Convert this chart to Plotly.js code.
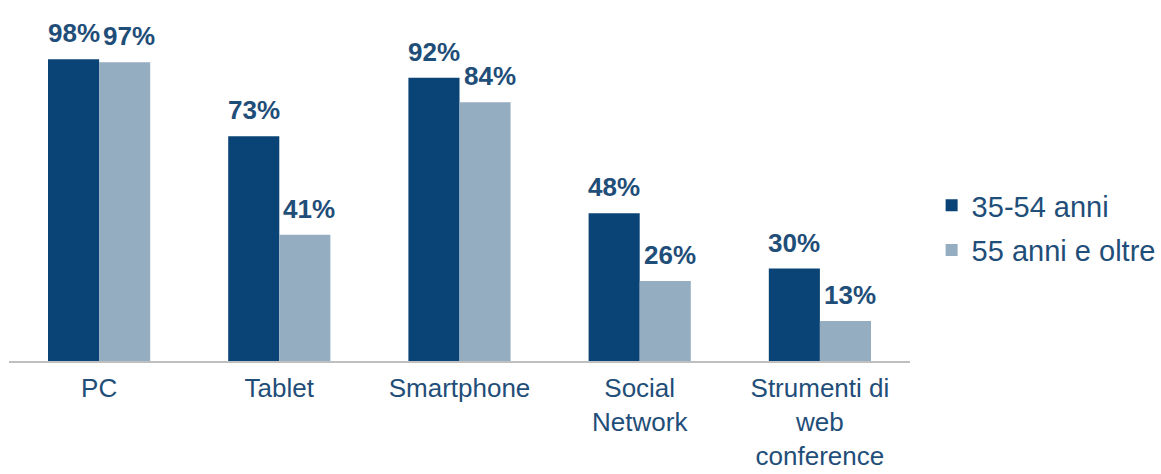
<!DOCTYPE html>
<html>
<head>
<meta charset="utf-8">
<script src="https://cdn.plot.ly/plotly-3.0.1.min.js"></script>
<style>html,body{margin:0;padding:0;background:#fff;}#chart{width:1161px;height:474px;}</style>
</head>
<body>
<div id="chart"></div>
<script>
const categories = ["PC", "Tablet", "Smartphone", "Social<br>Network", "Strumenti di<br>web<br>conference"];
const seriesNames = ["35-54 anni", "55 anni e oltre"];
const values3554 = [98, 73, 92, 48, 30];
const values55plus = [97, 41, 84, 26, 13];

const darkColor = "#0A4477";
const lightColor = "#94ADC0";
const textColor = "#1F4E79";
const fontFamily = "'Liberation Sans', Arial, sans-serif";

const traces = [
  {type: "bar", name: seriesNames[0], legendgroup: "a", x: categories, y: values3554, marker: {color: darkColor}, hoverinfo: "none"},
  {type: "bar", name: seriesNames[1], legendgroup: "b", x: categories, y: values55plus, marker: {color: lightColor}, hoverinfo: "none"}
];

const annotations = [];
[values3554, values55plus].forEach((vals, si) => {
  vals.forEach((v, i) => {
    annotations.push({
      x: categories[i], y: v, xref: "x", yref: "y",
      text: "<b>" + v + "%</b>", showarrow: false,
      yanchor: "bottom", xanchor: "center",
      xshift: si === 0 ? -25.5 : 30, yshift: 9,
      font: {family: fontFamily, size: 26, color: textColor}
    });
  });
});

const layout = {
  width: 1161, height: 474,
  margin: {l: 9, r: 251, t: 53, b: 113, autoexpand: false},
  paper_bgcolor: "#ffffff", plot_bgcolor: "#ffffff",
  barmode: "group", bargap: 0.433, bargroupgap: 0,
  showlegend: true,
  legend: {
    x: 1.024, xanchor: "left", y: 0.432, yanchor: "middle",
    tracegroupgap: 4,
    font: {family: fontFamily, size: 29, color: textColor},
    bgcolor: "rgba(0,0,0,0)"
  },
  xaxis: {
    type: "category",
    showline: true, linecolor: "#BFBFBF", linewidth: 2,
    ticks: "", showgrid: false, zeroline: false,
    ticklabelstandoff: 3,
    tickfont: {family: fontFamily, size: 26, color: textColor},
    fixedrange: true
  },
  yaxis: {
    range: [0, 100], visible: false, showgrid: false, zeroline: false, fixedrange: true
  },
  annotations: annotations,
  font: {family: fontFamily}
};

Plotly.newPlot("chart", traces, layout, {displayModeBar: false, staticPlot: true});
</script>
</body>
</html>
